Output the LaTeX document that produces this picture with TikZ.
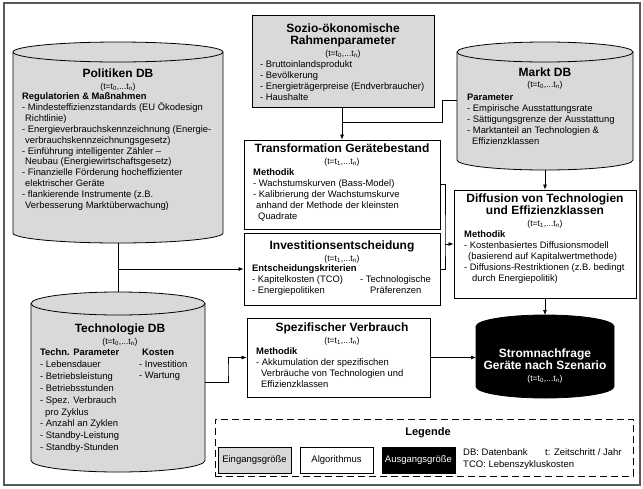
\documentclass[tikz,border=0pt]{standalone}
\usepackage{fontspec}
\setmainfont{Liberation Sans}
\usetikzlibrary{arrows.meta}

\definecolor{dbgray}{RGB}{217,217,217}
\definecolor{framegray}{RGB}{90,90,90}
\newcommand{\tstep}{\fontsize{8.6}{12}\selectfont\mdseries}
\newcommand{\tnull}{(t=t\textsubscript{0},...t\textsubscript{n})}
\newcommand{\teins}{(t=t\textsubscript{1},...t\textsubscript{n})}
% Datenbank-Zylinder: [Farbe]{Name}{x Mitte}{y oben}{y unten}{x Radius}{y Radius}
\newcommand{\dbzyl}[7][dbgray]{%
  \filldraw[fill=#1, line width=0.8pt] (#3-#6,#4+#7) -- (#3-#6,#5-#7)
    arc[start angle=180, end angle=360, x radius=#6pt, y radius=#7pt]
    -- (#3+#6,#4+#7) arc[start angle=0, end angle=180, x radius=#6pt, y radius=#7pt] -- cycle;
  \draw[line width=0.8pt] (#3-#6,#4+#7) arc[start angle=180, end angle=360, x radius=#6pt, y radius=#7pt];
  \coordinate (#2-top) at (#3,#4);
  \coordinate (#2-bot) at (#3,#5);
  \coordinate (#2-w) at (#3-#6,#4/2+#5/2);
  \coordinate (#2-e) at (#3+#6,#4/2+#5/2);
}

\tikzset{
  algbox/.style={rectangle, draw, fill=white, line width=0.8pt, inner sep=0},
  head/.style={font=\fontsize{12}{12}\selectfont\bfseries, align=center, anchor=north, inner sep=0},
  body/.style={font=\fontsize{9.4}{10.9}\selectfont, align=left, anchor=north west, inner sep=0},
  line/.style={line width=0.7pt},
  conn/.style={line, -{Latex[length=5pt,width=4pt]}},
}

\begin{document}
\begin{tikzpicture}[x=1pt,y=-1pt]
  \useasboundingbox (0,0) rectangle (643,488);
  \draw[framegray, line width=1.2pt] (4,3) rectangle (640,485);

  % Datenbanken
  \dbzyl{pol}{118}{42}{243}{105}{10}
  \dbzyl{markt}{545}{42}{170}{88}{10}
  \dbzyl{tech}{118}{292}{472}{87}{11.5}
  \dbzyl[black]{strom}{545}{315}{398}{69}{11.5}

  % Algorithmen
  \node[algbox, fill=dbgray, minimum width=182pt, minimum height=92pt] (soz) at (343,61) {};
  \node[algbox, minimum width=196pt, minimum height=89pt] (trans) at (342,184.5) {};
  \node[algbox, minimum width=196pt, minimum height=72pt] (inv) at (342,269) {};
  \node[algbox, minimum width=182pt, minimum height=108pt] (diff) at (545,244) {};
  \node[algbox, minimum width=183pt, minimum height=79pt] (spez) at (338.5,357.5) {};

  % Politiken DB
  \node[head] (pol-h) at (118,68.5) {Politiken DB\\\tstep\tnull};
  \node[body] (pol-b) at (22,92.5) {\textbf{Regulatorien \& Maßnahmen}\\
    - Mindesteffizienzstandards (EU Ökodesign\\
    \hspace*{3pt}Richtlinie)\\
    - Energieverbrauchskennzeichnung (Energie-\\
    \hspace*{3pt}verbrauchskennzeichnungsgesetz)\\
    - Einführung intelligenter Zähler –\\
    \hspace*{3pt}Neubau (Energiewirtschaftsgesetz)\\
    - Finanzielle Förderung hocheffizienter\\
    \hspace*{3pt}elektrischer Geräte\\
    - flankierende Instrumente (z.B.\\
    \hspace*{3pt}Verbesserung Marktüberwachung)};

  % Sozio-oekonomische Rahmenparameter
  \node[head] (soz-h) at (343,23.5) {Sozio-ökonomische\\Rahmenparameter\\\tstep\tnull};
  \node[body, font=\fontsize{9.4}{11}\selectfont] (soz-b) at (260,60.5) {- Bruttoinlandsprodukt\\
    - Bevölkerung\\
    - Energieträgerpreise (Endverbraucher)\\
    - Haushalte};

  % Markt DB
  \node[head] (markt-h) at (545,67.5) {Markt DB\\[-1pt]\tstep\tnull};
  \node[body, font=\fontsize{9.4}{11}\selectfont] (markt-b) at (467,93.5) {\textbf{Parameter}\\
    - Empirische Ausstattungsrate\\
    - Sättigungsgrenze der Ausstattung\\
    - Marktanteil an Technologien \&\\
    \hspace*{5pt}Effizienzklassen};

  % Transformation Geraetebestand
  \node[head] (trans-h) at (342,143.5) {Transformation Gerätebestand\\\tstep\teins};
  \node[body, font=\fontsize{9.4}{11}\selectfont] (trans-b) at (253,168.5) {\textbf{Methodik}\\
    - Wachstumskurven (Bass-Model)\\
    - Kalibrierung der Wachstumskurve\\
    \hspace*{3pt}anhand der Methode der kleinsten\\
    \hspace*{5pt}Quadrate};

  % Investitionsentscheidung
  \node[head] (inv-h) at (342,240.5) {Investitionsentscheidung\\\tstep\teins};
  \node[body, font=\fontsize{9.4}{11}\selectfont] (inv-b) at (252,264.5) {\textbf{Entscheidungskriterien}\\
    - Kapitelkosten (TCO)\\
    - Energiepolitiken};
  \node[body, font=\fontsize{9.4}{11}\selectfont] (inv-c) at (360,275.5) {- Technologische\\
    \hspace*{10pt}Präferenzen};

  % Diffusion
  \node[head] (diff-h) at (545,193.5) {Diffusion von Technologien\\und Effizienzklassen\\\tstep\teins};
  \node[body, font=\fontsize{9.4}{11}\selectfont] (diff-b) at (464,230.5) {\textbf{Methodik}\\
    - Kostenbasiertes Diffusionsmodell\\
    \hspace*{4pt}(basierend auf Kapitalwertmethode)\\
    - Diffusions-Restriktionen (z.B. bedingt\\
    \hspace*{8pt}durch Energiepolitik)};

  % Technologie DB
  \node[head] (tech-h) at (120,323.5) {Technologie DB\\\tstep\tnull};
  \node[body, font=\fontsize{9.4}{11.9}\selectfont] (tech-b) at (40,348.5) {\textbf{Techn. Parameter}\\
    - Lebensdauer\\
    - Betriebsleistung\\
    - Betriebsstunden\\
    - Spez. Verbrauch\\
    \hspace*{5pt}pro Zyklus\\
    - Anzahl an Zyklen\\
    - Standby-Leistung\\
    - Standby-Stunden};
  \node[body, font=\fontsize{9.4}{11.9}\selectfont] (tech-c) at (139,348.5) {\hspace*{3pt}\textbf{Kosten}\\
    - Investition\\
    - Wartung};

  % Spezifischer Verbrauch
  \node[head] (spez-h) at (342,322.5) {Spezifischer Verbrauch\\\tstep\teins};
  \node[body, font=\fontsize{9.4}{11}\selectfont] (spez-b) at (256,347.5) {\textbf{Methodik}\\
    - Akkumulation der spezifischen\\
    \hspace*{5pt}Verbräuche von Technologien und\\
    \hspace*{5pt}Effizienzklassen};

  % Stromnachfrage
  \node[head, text=white] (strom-h) at (545,348.5) {Stromnachfrage\\Geräte nach Szenario\\\tstep\tnull};

  % Verbindungen
  \coordinate (mj) at (442,122);
  \coordinate (brk) at (445,244);
  \coordinate (tj) at (228,370);
  \draw[conn] (soz.south -| trans.north) -- (trans.north);
  \draw[line] ([yshift=6pt]markt-w) -| (mj) -- (trans.north |- mj);
  \draw[line] (pol-bot) -- (tech-top);
  \draw[conn] (pol-bot |- inv.west) -- (inv.west);
  \draw[line] (trans.east) -| (brk) |- (inv.east);
  \draw[conn] (brk) -- (brk -| diff.west);
  \draw[conn] (markt-bot) -- (diff.north);
  \draw[conn] (diff.south) -- (strom-top);
  \draw[conn] (tech-e) -| (tj) |- (spez.west);
  \draw[conn] (spez.east) -- (spez.east -| strom-w);

  % Legende
  \node[draw, line width=1pt, dash pattern=on 7pt off 4pt, minimum width=418pt, minimum height=57pt] (leg) at (424,447.5) {};
  \node[head, font=\fontsize{11}{11}\selectfont\bfseries] (leg-h) at (428,427) {Legende};
  \node[algbox, fill=dbgray, minimum width=73pt, minimum height=26pt, font=\fontsize{9.5}{11}\selectfont] (leg-in) at (254.5,460) {Eingangsgröße};
  \node[algbox, minimum width=73pt, minimum height=26pt, font=\fontsize{9.5}{11}\selectfont] (leg-alg) at (336.5,460) {Algorithmus};
  \node[algbox, fill=black, text=white, minimum width=73pt, minimum height=26pt, font=\fontsize{9.5}{11}\selectfont] (leg-out) at (418.5,460) {Ausgangsgröße};
  \node[body, font=\fontsize{9.5}{12}\selectfont] (leg-db) at (463,448) {DB: Datenbank\\TCO: Lebenszykluskosten};
  \node[body, font=\fontsize{9.5}{12}\selectfont] (leg-t) at (545,448) {t: Zeitschritt / Jahr};
\end{tikzpicture}
\end{document}
